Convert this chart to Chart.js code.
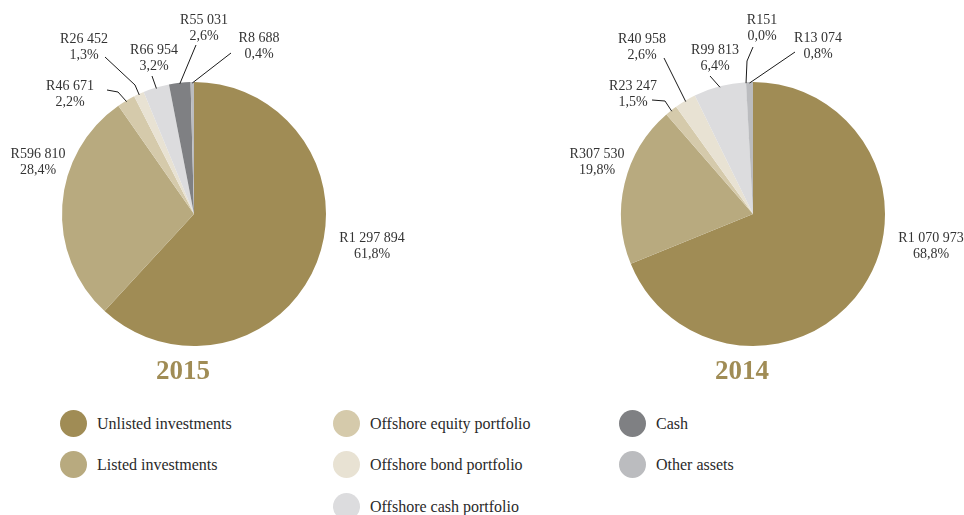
<!DOCTYPE html>
<html>
<head>
<meta charset="utf-8">
<script src="https://cdn.jsdelivr.net/npm/chart.js@4/dist/chart.umd.min.js"></script>
<style>
  html, body { margin: 0; padding: 0; background: #ffffff; }
  body { width: 964px; height: 515px; position: relative; overflow: hidden; font-family: "Liberation Serif", "DejaVu Serif", serif; }
  .cv { position: absolute; top: 0; }
  .legend-item { position: absolute; display: flex; align-items: center; font-size: 16px; color: #2a2a2a; white-space: nowrap; }
  .legend-item .dot { width: 27px; height: 27px; border-radius: 50%; margin-right: 10px; flex: none; }
</style>
</head>
<body>
<canvas id="c2015" class="cv" width="482" height="400" style="left:0px"></canvas>
<canvas id="c2014" class="cv" width="482" height="400" style="left:482px"></canvas>
<div id="legend"></div>
<script>
// ---- data ----
const categories = ["Unlisted investments", "Listed investments", "Offshore equity portfolio", "Offshore bond portfolio", "Offshore cash portfolio", "Cash", "Other assets"];
const values2015 = [1297894, 596810, 46671, 26452, 66954, 55031, 8688];
const values2014 = [1070973, 307530, 23247, 40958, 99813, 151, 13074];
const amountLabels2015 = ["R1 297 894", "R596 810", "R46 671", "R26 452", "R66 954", "R55 031", "R8 688"];
const amountLabels2014 = ["R1 070 973", "R307 530", "R23 247", "R40 958", "R99 813", "R151", "R13 074"];
const percentLabels2015 = ["61,8%", "28,4%", "2,2%", "1,3%", "3,2%", "2,6%", "0,4%"];
const percentLabels2014 = ["68,8%", "19,8%", "1,5%", "2,6%", "6,4%", "0,0%", "0,8%"];
const years = ["2015", "2014"];

// ---- style ----
const colors = ["#a08c55", "#b8aa7f", "#d5caab", "#e8e2d3", "#dcdcde", "#7f8083", "#bbbcbf"];

// label placement (canvas-local: text centre x, first-line baseline y; leader polyline points relative to canvas; leader ends at slice edge)
const labelLayout2015 = [
  { x: 372, y: 242, leader: null },
  { x: 38,  y: 158, leader: null },
  { x: 70,  y: 90,  leader: [[107, 90], [118, 92]] },
  { x: 84,  y: 43,  leader: [[105, 57], [135, 85]] },
  { x: 154, y: 54,  leader: [[152, 76]] },
  { x: 204, y: 24,  leader: [[196, 45]] },
  { x: 259, y: 42,  leader: [[231, 53]] }
];
const labelLayout2014 = [
  { x: 931 - 482, y: 242, leader: null },
  { x: 597 - 482, y: 158, leader: null },
  { x: 633 - 482, y: 90,  leader: [[652 - 482, 100], [665 - 482, 101]] },
  { x: 642 - 482, y: 43,  leader: [[664 - 482, 58]] },
  { x: 715 - 482, y: 54,  leader: [[710 - 482, 76]] },
  { x: 762 - 482, y: 24,  leader: [[753 - 482, 47], [747 - 482, 61]] },
  { x: 818 - 482, y: 42,  leader: [[795 - 482, 52]] }
];

const labelPlugin = {
  id: 'sliceLabels',
  afterDraw(chart, args, opts) {
    const ctx = chart.ctx;
    const meta = chart.getDatasetMeta(0);
    ctx.save();
    ctx.font = '14px "Liberation Serif", serif';
    ctx.fillStyle = '#333333';
    ctx.textAlign = 'center';
    ctx.textBaseline = 'alphabetic';
    meta.data.forEach((arc, i) => {
      const lay = opts.layout[i];
      ctx.fillText(opts.amounts[i], lay.x, lay.y);
      ctx.fillText(opts.percents[i], lay.x, lay.y + 16);
      if (lay.leader) {
        const p = arc.getProps(['x', 'y', 'startAngle', 'endAngle', 'outerRadius'], true);
        const mid = (p.startAngle + p.endAngle) / 2;
        const ex = p.x + Math.cos(mid) * (p.outerRadius - 1);
        const ey = p.y + Math.sin(mid) * (p.outerRadius - 1);
        ctx.beginPath();
        ctx.strokeStyle = '#1a1a1a';
        ctx.lineWidth = 1;
        ctx.moveTo(lay.leader[0][0], lay.leader[0][1]);
        for (let k = 1; k < lay.leader.length; k++) ctx.lineTo(lay.leader[k][0], lay.leader[k][1]);
        ctx.lineTo(ex, ey);
        ctx.stroke();
      }
    });
    // year title
    const a = chart.chartArea;
    ctx.font = 'bold 27px "Liberation Serif", serif';
    ctx.fillStyle = '#a08c55';
    ctx.fillText(opts.year, (a.left + a.right) / 2 - 11, 379);
    ctx.restore();
  }
};

function makePie(id, values, amounts, percents, layout, year, pad) {
  return new Chart(document.getElementById(id), {
    type: 'pie',
    data: {
      labels: categories,
      datasets: [{ data: values, backgroundColor: colors, borderWidth: 0 }]
    },
    options: {
      responsive: false,
      animation: false,
      layout: { padding: pad },
      plugins: {
        legend: { display: false },
        tooltip: { enabled: false },
        sliceLabels: { amounts, percents, layout, year }
      }
    },
    plugins: [labelPlugin]
  });
}

makePie('c2015', values2015, amountLabels2015, percentLabels2015, labelLayout2015, years[0],
  { left: 62, right: 482 - 326, top: 82, bottom: 400 - 346 });
makePie('c2014', values2014, amountLabels2014, percentLabels2014, labelLayout2014, years[1],
  { left: 621 - 482, right: 964 - 885, top: 82, bottom: 400 - 346 });

// ---- legend ----
const legendPos = [[60, 424], [60, 465], [333, 424], [333, 465], [333, 507], [619, 424], [619, 465]];
const legend = document.getElementById('legend');
categories.forEach((c, i) => {
  const d = document.createElement('div');
  d.className = 'legend-item';
  d.style.left = legendPos[i][0] + 'px';
  d.style.top = (legendPos[i][1] - 14) + 'px';
  d.innerHTML = '<span class="dot" style="background:' + colors[i] + '"></span><span>' + c + '</span>';
  legend.appendChild(d);
});
</script>
</body>
</html>
